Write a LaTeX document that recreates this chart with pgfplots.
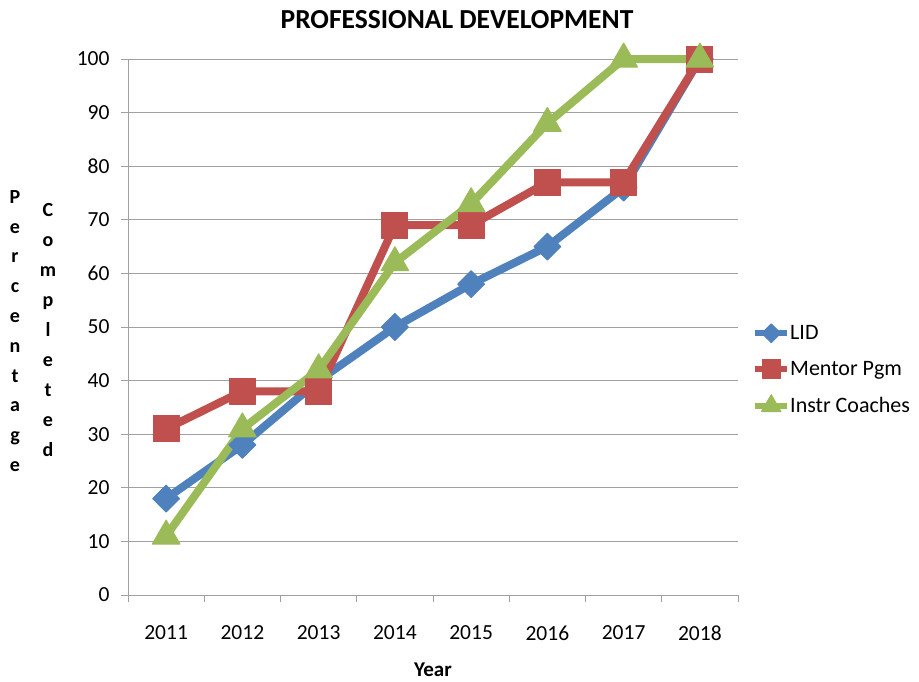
\documentclass[border=0pt]{standalone}
\usepackage{fontspec}
\setmainfont{Carlito}
\usepackage{pgfplots}
\pgfplotsset{compat=1.18}
\definecolor{cblue}{HTML}{4F81BD}
\definecolor{cred}{HTML}{C0504D}
\definecolor{cgreen}{HTML}{9BBB59}
\definecolor{gridc}{HTML}{A0A0A0}
\begin{document}
\begin{tikzpicture}
\path[use as bounding box] (0pt,0pt) rectangle (919pt,-681pt);
\begin{axis}[
  at={(128pt,-595pt)}, anchor=south west,
  scale only axis, width=610pt, height=536pt,
  xmin=-0.5, xmax=7.5, ymin=0, ymax=100,
  xtick={-0.5,0.5,...,7.5},
  xticklabels={},
  extra x ticks={0,...,7},
  extra x tick labels={2011,2012,2013,2014,2015,2016,2017,2018},
  extra x tick style={tick style={draw=none}, xticklabel style={yshift=-20pt}},
  ytick={0,10,...,100},
  tick style={gridc, line width=0.8pt},
  major tick length=7pt,
  tick align=outside,
  axis x line*=bottom, axis y line*=left,
  axis line style={gridc, line width=0.8pt, -},
  ymajorgrids, grid style={gridc, line width=0.8pt},
  tick label style={font=\fontsize{21.5}{23}\selectfont, text=black},
  /pgf/number format/assume math mode=true,
  yticklabel style={xshift=-8pt},
  clip=false,
  legend style={at={(axis description cs:1.023,0.42)}, anchor=west, draw=none,
    font=\fontsize{22}{24}\selectfont, row sep=16pt, inner sep=0pt,
    nodes={inner xsep=0pt}},
  legend cell align=left,
  legend image code/.code={%
    \draw[mark repeat=2,mark phase=2,#1,line width=6pt] plot coordinates {(0pt,0pt) (16pt,0pt) (32pt,0pt)};},
  legend image post style={every mark/.append style={scale=0.7}},
  every axis plot/.append style={line width=8pt, line join=round},
]
\addplot[cblue, mark=square*, mark size=9.5pt, mark options={rotate=45, line width=1pt}]
 coordinates {(0,18) (1,28) (2,40) (3,50) (4,58) (5,65) (6,76) (7,100)};
\addlegendentry{LID}
\addplot[cred, mark=square*, mark size=13pt, mark options={line width=1pt, rounded corners=3pt}]
 coordinates {(0,31) (1,38) (2,38) (3,69) (4,69) (5,77) (6,77) (7,100)};
\addlegendentry{Mentor Pgm}
\addplot[cgreen, mark=triangle*, mark size=16pt, mark options={line width=1pt, rounded corners=2pt}]
 coordinates {(0,11) (1,31) (2,42) (3,62) (4,73) (5,88) (6,100) (7,100)};
\addlegendentry{Instr Coaches}
\end{axis}
\node[font=\bfseries\fontsize{27.5}{30}\selectfont] at (457pt,-20pt) {PROFESSIONAL DEVELOPMENT};
\node[font=\bfseries\fontsize{21}{23}\selectfont] at (433pt,-670pt) {Year};
\node[font=\bfseries\fontsize{20}{29.8}\selectfont, align=center] at (15pt,-331pt) {P\\e\\r\\c\\e\\n\\t\\a\\g\\e};
\node[font=\bfseries\fontsize{20}{30}\selectfont, align=center] at (48pt,-330pt) {C\\o\\m\\p\\l\\e\\t\\e\\d};
\end{tikzpicture}
\end{document}
